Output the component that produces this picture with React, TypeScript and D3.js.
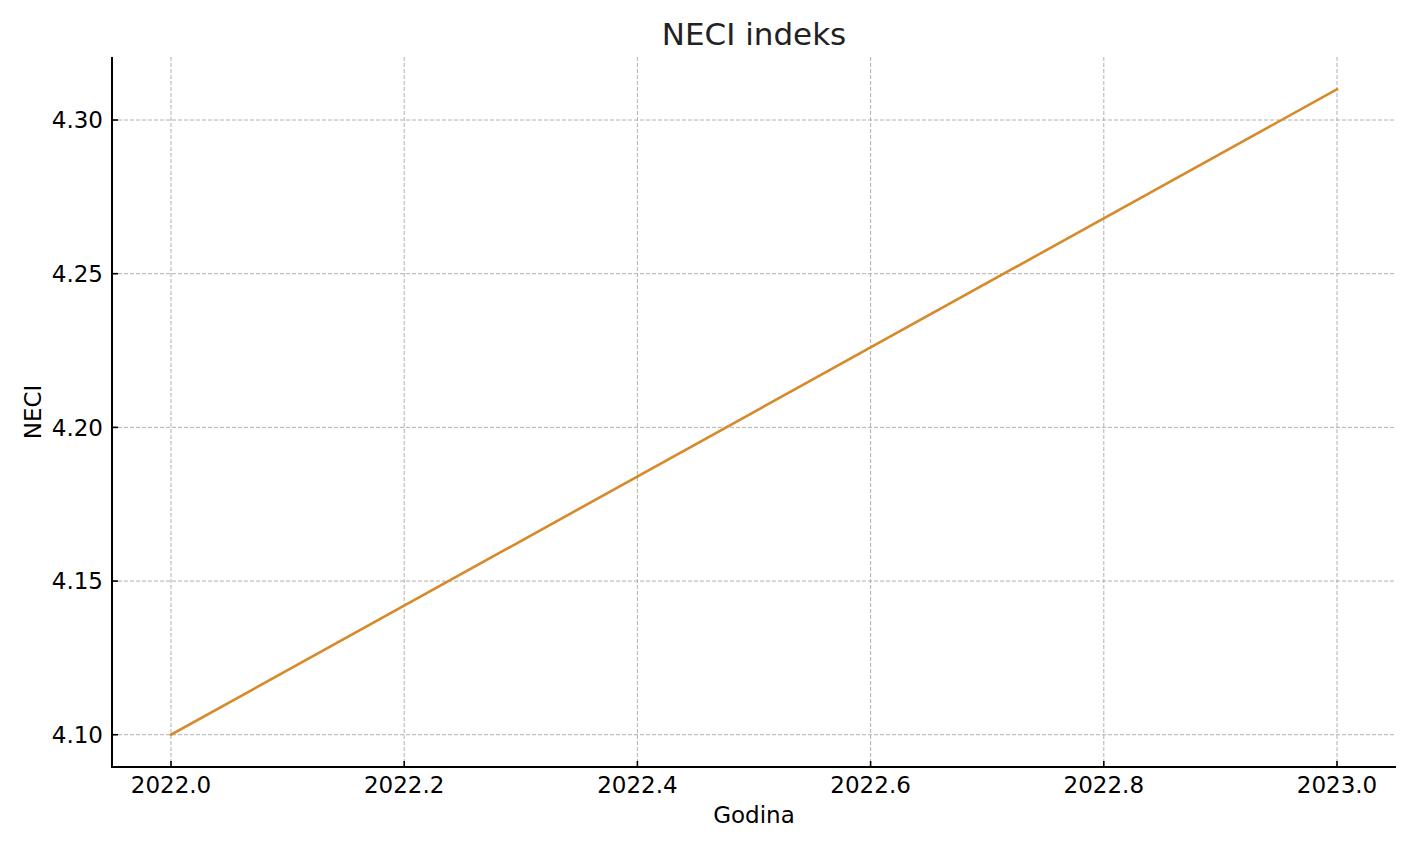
import React from "react";
import * as d3 from "d3";

const years = [2022.0, 2023.0];
const neci = [4.1, 4.31];
const xTicks = [2022.0, 2022.2, 2022.4, 2022.6, 2022.8, 2023.0];
const yTicks = [4.1, 4.15, 4.2, 4.25, 4.3];

const W = 1417, H = 850;
const L = 112, R = 1396, T = 57, B = 767;
const FONT = "DejaVu Sans, sans-serif";

export default function App() {
  const x = d3.scaleLinear().domain([2021.9494, 2023.0506]).range([L, R]);
  const y = d3.scaleLinear().domain([4.0895, 4.3205]).range([B, T]);
  const line = d3.line<number>().x((_, i) => x(years[i])).y((d) => y(d));
  return (
    <div style={{ position: "absolute", left: 0, top: 0 }}>
      <svg width={W} height={H} style={{ display: "block", background: "#fff" }}>
        {xTicks.map((t) => (
          <line key={"gx" + t} x1={x(t)} x2={x(t)} y1={T} y2={B} stroke="#b0b0b0" strokeWidth={1} strokeDasharray="4,2" />
        ))}
        {yTicks.map((t) => (
          <line key={"gy" + t} x1={L} x2={R} y1={y(t)} y2={y(t)} stroke="#b0b0b0" strokeWidth={1} strokeDasharray="4,2" />
        ))}
        <path d={line(neci) || ""} fill="none" stroke="#d68a2a" strokeWidth={2.6} strokeLinecap="square" />
        <line x1={L} x2={L} y1={T} y2={B + 1} stroke="#000" strokeWidth={2} />
        <line x1={L - 1} x2={R} y1={B} y2={B} stroke="#000" strokeWidth={2} />
        {xTicks.map((t) => (
          <g key={"xt" + t}>
            <line x1={x(t)} x2={x(t)} y1={B} y2={B - 6} stroke="#000" strokeWidth={1.6} />
            <text x={x(t)} y={793} textAnchor="middle" fontFamily={FONT} fontSize={23} fill="#000">
              {t.toFixed(1)}
            </text>
          </g>
        ))}
        {yTicks.map((t) => (
          <g key={"yt" + t}>
            <line x1={L} x2={L + 6} y1={y(t)} y2={y(t)} stroke="#000" strokeWidth={1.6} />
            <text x={103} y={y(t)} dy="0.36em" textAnchor="end" fontFamily={FONT} fontSize={23} fill="#000">
              {t.toFixed(2)}
            </text>
          </g>
        ))}
        <text x={(L + R) / 2} y={823} textAnchor="middle" fontFamily={FONT} fontSize={23} fill="#000">
          Godina
        </text>
        <text transform={`translate(41, ${(T + B) / 2}) rotate(-90)`} textAnchor="middle" fontFamily={FONT} fontSize={23} fill="#000">
          NECI
        </text>
        <text x={(L + R) / 2} y={45} textAnchor="middle" fontFamily={FONT} fontSize={31} fill="#222">
          NECI indeks
        </text>
      </svg>
    </div>
  );
}
